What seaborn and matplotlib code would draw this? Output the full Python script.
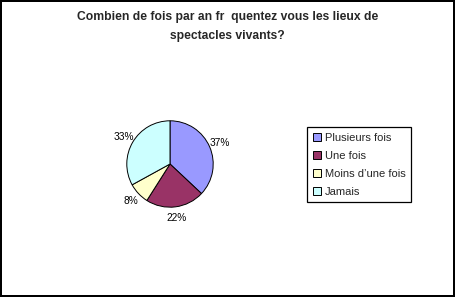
import matplotlib
matplotlib.use('Agg')
import matplotlib.pyplot as plt
import seaborn as sns
from matplotlib.patches import Patch

# données
CATEGORIES = ['Plusieurs fois', 'Une fois', "Moins d\u2019une fois", 'Jamais']
VALUES = [37, 22, 8, 33]
COLORS = ['#9999FF', '#993366', '#FFFFCC', '#CCFFFF']
TITLE = 'Combien de fois par an fr  quentez vous les lieux de\nspectacles vivants?'

sns.set_theme(style='white')
plt.rcParams['font.family'] = ['Liberation Sans', 'DejaVu Sans']

W, H = 455, 297
fig = plt.figure(figsize=(W / 100, H / 100), dpi=100)
fig.patch.set_facecolor('white')
fig.patch.set_edgecolor('black')
fig.patch.set_linewidth(1.5)

fig.text(0.5, 1 - 11 / H, TITLE, ha='center', va='top', fontsize=8.7,
         fontweight='bold', linespacing=1.75)

# axes du camembert (centre ~ (170,164) px, rayon ~54 px)
cx, cy, r = 170, 164, 54
ax = fig.add_axes([(cx - r) / W, (H - cy - r) / H, 2 * r / W, 2 * r / H])
wedges, texts, autotexts = ax.pie(
    VALUES, colors=COLORS, startangle=90, counterclock=False,
    autopct='%d%%', pctdistance=1.25,
    wedgeprops=dict(edgecolor='black', linewidth=0.7),
    textprops=dict(fontsize=7.3, color='black'),
)
ax.set_aspect('equal')

handles = [Patch(facecolor=c, edgecolor='black', linewidth=0.7) for c in COLORS]
leg = fig.legend(handles, CATEGORIES, loc='upper left',
                 bbox_to_anchor=(307 / W, 1 - 127 / H), fontsize=8,
                 frameon=True, fancybox=False, framealpha=1,
                 edgecolor='black', handlelength=0.75, handleheight=0.75,
                 handletextpad=0.35, labelspacing=0.72, borderpad=0.5,
                 borderaxespad=0)
leg.get_frame().set_linewidth(0.9)

fig.savefig('out.png', dpi=100, facecolor='white', edgecolor='black')
